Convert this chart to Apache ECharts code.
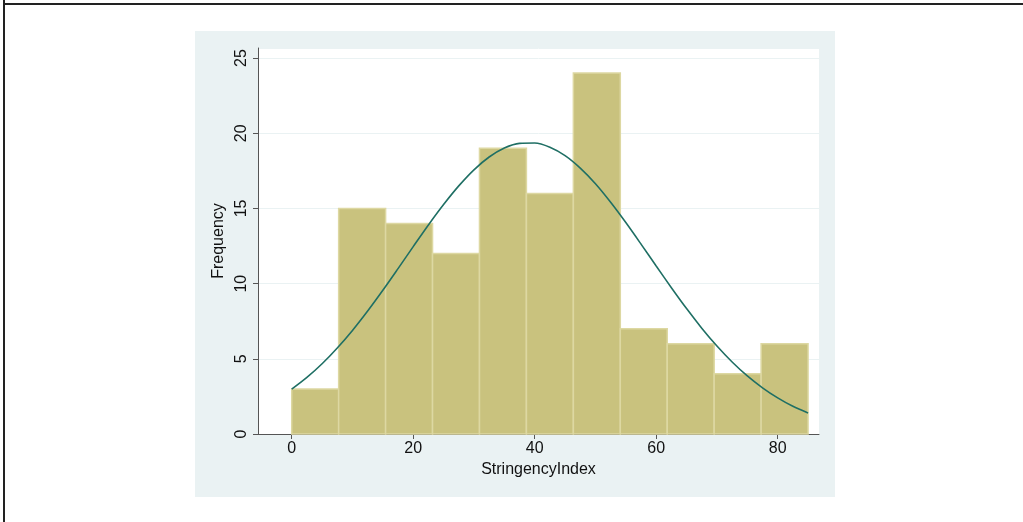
<!DOCTYPE html>
<html>
<head>
<meta charset="utf-8">
<script src="https://cdn.jsdelivr.net/npm/echarts@6/dist/echarts.min.js"></script>
<style>
html,body{margin:0;padding:0;background:#fff;}
#c{width:1023px;height:522px;}
</style>
</head>
<body>
<div id="c"></div>
<script>
// Histogram bins (StringencyIndex)
var binEdges = [0, 7.727, 15.455, 23.182, 30.909, 38.636, 46.364, 54.091, 61.818, 69.545, 77.273, 85];
var counts = [3, 15, 14, 12, 19, 16, 24, 7, 6, 4, 6];
// Normal density overlay
var curveX = [0, 2.5, 5, 7.5, 10, 12.5, 15, 17.5, 20, 22.5, 25, 27.5, 30, 32.5, 35, 37.5, 40, 42.5, 45, 47.5, 50, 52.5, 55, 57.5, 60, 62.5, 65, 67.5, 70, 72.5, 75, 77.5, 80, 82.5, 85];
var curveY = [2.98, 3.76, 4.67, 5.72, 6.89, 8.18, 9.56, 11.0, 12.46, 13.9, 15.26, 16.5, 17.57, 18.42, 19.02, 19.33, 19.35, 19.07, 18.51, 17.68, 16.64, 15.41, 14.06, 12.63, 11.17, 9.73, 8.34, 7.04, 5.85, 4.79, 3.86, 3.07, 2.4, 1.84, 1.4];
var xTicks = [0, 20, 40, 60, 80];

var histData = counts.map(function (c, i) { return [binEdges[i], binEdges[i + 1], c]; });
var curveData = curveX.map(function (x, i) { return [x, curveY[i]]; });

var chart = echarts.init(document.getElementById('c'), null, { renderer: 'canvas' });
var font = 'Liberation Sans, Arial, sans-serif';
chart.setOption({
  backgroundColor: '#ffffff',
  animation: false,
  graphic: [
    { type: 'rect', z: -10, shape: { x: 195, y: 31, width: 640, height: 466 }, style: { fill: '#eaf2f3' } },
    { type: 'line', z: 10, shape: { x1: 4, y1: 0, x2: 4, y2: 522 }, style: { stroke: '#222', lineWidth: 2 } },
    { type: 'line', z: 10, shape: { x1: 3, y1: 4, x2: 1023, y2: 4 }, style: { stroke: '#222', lineWidth: 2 } }
  ],
  grid: { left: 258, top: 48, right: 204, bottom: 88, show: true, backgroundColor: '#ffffff', borderWidth: 0 },
  xAxis: {
    type: 'value', min: -5.55, max: 86.8,
    name: 'StringencyIndex', nameLocation: 'middle', nameGap: 28,
    nameTextStyle: { fontFamily: font, fontSize: 16, color: '#111' },
    axisLine: { show: true, onZero: false, lineStyle: { color: '#555', width: 1 } },
    axisTick: { show: true, length: 5, customValues: xTicks, lineStyle: { color: '#555' } },
    axisLabel: { customValues: xTicks, fontFamily: font, fontSize: 16, color: '#111', margin: 7 },
    splitLine: { show: false }
  },
  yAxis: {
    type: 'value', min: 0, max: 25.67, interval: 5,
    name: 'Frequency', nameLocation: 'middle', nameGap: 30, nameRotate: 90,
    nameTextStyle: { fontFamily: font, fontSize: 16, color: '#111' },
    axisLine: { show: true, onZero: false, lineStyle: { color: '#555', width: 1 } },
    axisTick: { show: true, length: 5, lineStyle: { color: '#555' } },
    axisLabel: { rotate: 90, fontFamily: font, fontSize: 16, color: '#111', margin: 8, showMaxLabel: false },
    splitLine: { show: true, lineStyle: { color: '#eaf2f3', width: 1 } }
  },
  series: [
    {
      type: 'custom',
      data: histData,
      encode: { x: [0, 1], y: 2 },
      renderItem: function (params, api) {
        var p0 = api.coord([api.value(0), api.value(2)]);
        var p1 = api.coord([api.value(1), 0]);
        return {
          type: 'rect',
          shape: { x: p0[0], y: p0[1], width: p1[0] - p0[0], height: p1[1] - p0[1] },
          style: { fill: '#c9c27e', stroke: '#ddd8a2', lineWidth: 1.5 }
        };
      },
      z: 2
    },
    {
      type: 'line',
      data: curveData,
      smooth: 0.3,
      showSymbol: false,
      symbol: 'none',
      lineStyle: { color: '#1f6f64', width: 1.6 },
      z: 3
    }
  ]
});
</script>
</body>
</html>
